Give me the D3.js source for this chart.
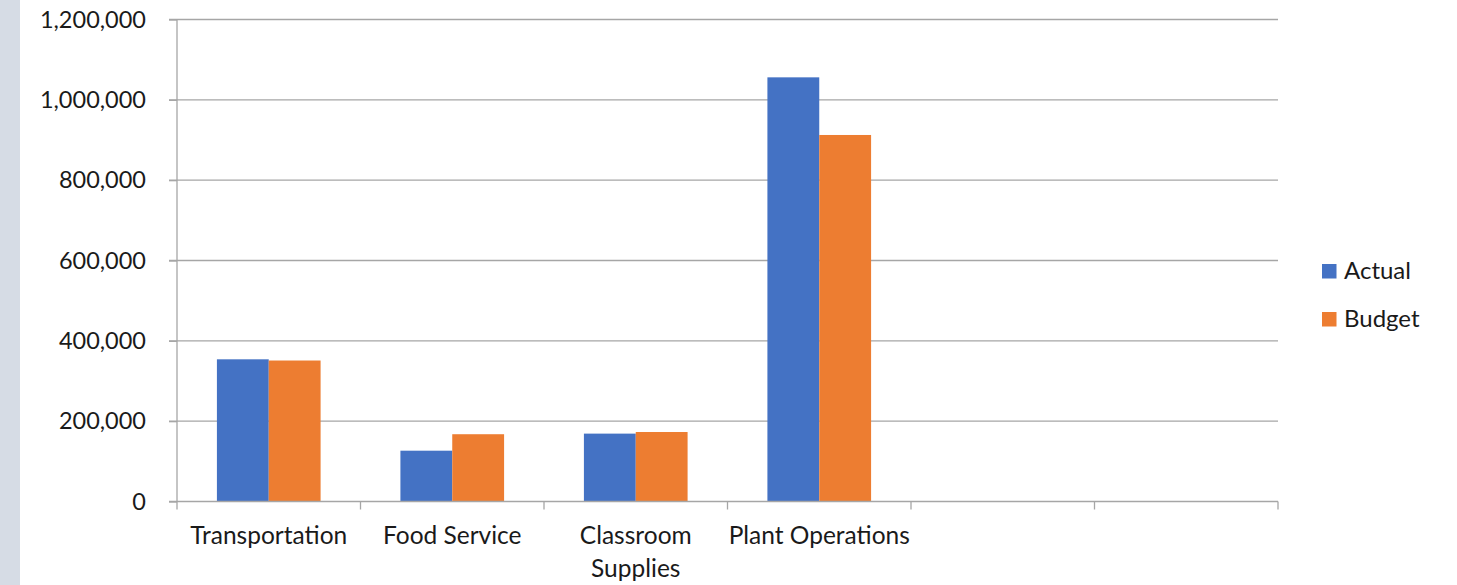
<!DOCTYPE html>
<html>
<head>
<meta charset="utf-8">
<script src="https://cdn.jsdelivr.net/npm/d3@7"></script>
<style>
  body { margin: 0; background: #fff; }
  svg { display: block; font-family: Lato, "Open Sans", sans-serif; }
</style>
</head>
<body>
<svg id="chart"></svg>
<script>
const categories = ['Transportation', 'Food Service', 'Classroom Supplies', 'Plant Operations', '', ' ']
const seriesNames = ['Actual', 'Budget']
const actual = [354000, 126500, 169000, 1056000, null, null]
const budget = [351000, 167500, 173000, 912500, null, null]
const yTicks = [0, 200000, 400000, 600000, 800000, 1000000, 1200000]
const colors = ['#4472c4', '#ed7d31']

const width = 1457
const height = 585
const plotLeft = 177, plotRight = 1278, plotTop = 19.5, plotBottom = 501.5

let svg = d3.select('#chart').attr('width', width).attr('height', height)

// grey strip at the left edge
svg.append('rect').attr('x', 0).attr('y', 0).attr('width', 20).attr('height', height).attr('fill', '#d6dce5')

const xScale = d3.scaleBand().domain(categories).range([plotLeft, plotRight]).padding(0)
const x1 = d3.scaleBand().domain(seriesNames)
  .range([xScale.bandwidth() * 0.2175, xScale.bandwidth() * 0.7825]).padding(0)
const yScale = d3.scaleLinear().domain([0, 1200000]).range([plotBottom, plotTop])

// gridlines
svg.append('g').selectAll('line').data(yTicks.filter(d => d > 0)).enter().append('line')
  .attr('x1', plotLeft - 8).attr('x2', plotRight)
  .attr('y1', d => yScale(d)).attr('y2', d => yScale(d))
  .attr('stroke', '#a6a6a6').attr('stroke-width', 1.3)

// y axis
const yAxis = d3.axisLeft(yScale).tickValues(yTicks).tickSize(8).tickPadding(23)
  .tickFormat(d3.format(','))
const gy = svg.append('g').attr('transform', `translate(${plotLeft},0)`).call(yAxis)
gy.selectAll('line, path').attr('stroke', '#a6a6a6').attr('stroke-width', 1.3)
gy.select('.domain').attr('d', `M0,${plotTop}V${plotBottom}`)
gy.selectAll('text').attr('font-size', 23.5).attr('fill', '#1a1a1a').attr('font-family', 'Lato')

// bars
const rows = categories.map((c, i) => ({ cat: c, vals: [actual[i], budget[i]] }))
const groups = svg.append('g').selectAll('g').data(rows).enter().append('g')
  .attr('transform', d => `translate(${xScale(d.cat)},0)`)
groups.selectAll('rect').data(d => d.vals.map((v, j) => ({ name: seriesNames[j], v: v, j: j })).filter(d => d.v != null))
  .enter().append('rect')
  .attr('x', d => x1(d.name)).attr('width', x1.bandwidth())
  .attr('y', d => yScale(d.v)).attr('height', d => plotBottom - yScale(d.v))
  .attr('fill', d => colors[d.j])

// x axis
const gx = svg.append('g').attr('transform', `translate(0,${plotBottom})`)
gx.append('line').attr('x1', plotLeft - 8).attr('x2', plotRight).attr('y1', 0).attr('y2', 0)
  .attr('stroke', '#a6a6a6').attr('stroke-width', 1.3)
const bounds = categories.map(c => xScale(c)).concat([plotRight])
gx.selectAll('.tk').data(bounds).enter().append('line').attr('class', 'tk')
  .attr('x1', d => d).attr('x2', d => d).attr('y1', 0).attr('y2', 8)
  .attr('stroke', '#a6a6a6').attr('stroke-width', 1.3)
const labels = gx.selectAll('text').data(categories.filter(c => c.trim() !== '')).enter().append('text')
  .attr('x', d => xScale(d) + xScale.bandwidth() / 2)
  .attr('y', 42)
  .attr('text-anchor', 'middle').attr('font-size', 24.5).attr('fill', '#1a1a1a')
labels.each(function (d) {
  const words = d === 'Classroom Supplies' ? ['Classroom', 'Supplies'] : [d]
  const t = d3.select(this)
  words.forEach((w, i) => {
    t.append('tspan').attr('x', xScale(d) + xScale.bandwidth() / 2).attr('dy', i === 0 ? 0 : 33).text(w)
  })
})

// legend
const legend = svg.append('g').attr('transform', 'translate(1322,264)')
seriesNames.forEach((s, i) => {
  legend.append('rect').attr('x', 0).attr('y', i * 48).attr('width', 14.5).attr('height', 14.5).attr('fill', colors[i])
  legend.append('text').attr('x', 22).attr('y', i * 48 + 15).attr('font-size', 24).attr('fill', '#1a1a1a').text(s)
})
</script>
</body>
</html>
